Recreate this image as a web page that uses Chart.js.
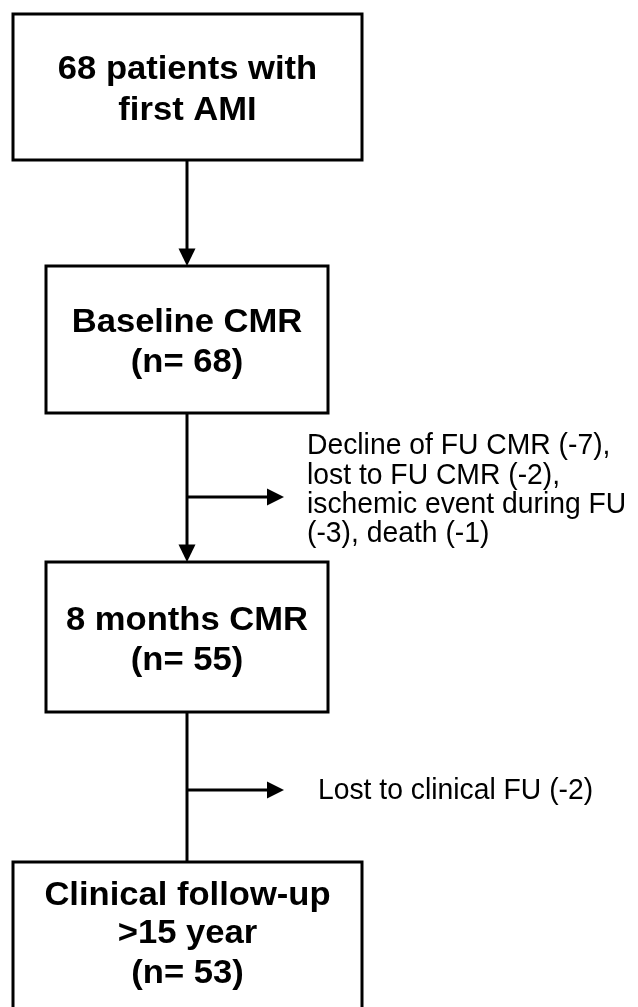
<!DOCTYPE html>
<html>
<head>
<meta charset="utf-8">
<script src="https://cdn.jsdelivr.net/npm/chart.js@4.4.1/dist/chart.umd.min.js"></script>
<style>
  html, body { margin: 0; padding: 0; background: #ffffff; }
  #wrap { width: 638px; height: 1007px; }
</style>
</head>
<body>
<div id="wrap"><canvas id="c" width="638" height="1007"></canvas></div>
<script>
// ---- data (flow stages and exclusions) ----
const stageTitles = [["68 patients with", "first AMI"], ["Baseline CMR"], ["8 months CMR"], ["Clinical follow-up", ">15 year"]];
const stageCounts = [null, 68, 55, 53];
const exclusionLines1 = ["Decline of FU CMR (-7),", "lost to FU CMR (-2),", "ischemic event during FU", "(-3), death (-1)"];
const exclusionLines2 = ["Lost to clinical FU (-2)"];

// ---- layout (in scale units; scales map 1:1 to the page) ----
const boxes = [
  { x0: 13, x1: 362, y0: 14, y1: 160 },
  { x0: 46, x1: 328, y0: 266, y1: 413 },
  { x0: 46, x1: 328, y0: 562, y1: 712 },
  { x0: 13, x1: 362, y0: 862, y1: 1015 }
];
const spineX = 187;
const sideArrows = [
  { y: 497, x1: 284, textX: 307, baselines: [454, 483.5, 512.5, 542], lines: exclusionLines1 },
  { y: 790, x1: 284, textX: 318, baselines: [799], lines: exclusionLines2 }
];
const stageBaselines = [[79, 120], [331.5, 372], [630, 670], [905, 943, 982.5]];

function stageText(i) {
  const t = stageTitles[i].slice();
  if (stageCounts[i] !== null) t.push("(n= " + stageCounts[i] + ")");
  return t;
}

function stretchedText(ctx, txt, x, y, sy) {
  ctx.save();
  ctx.translate(x, y);
  ctx.scale(1, sy);
  ctx.fillText(txt, 0, 0);
  ctx.restore();
}

const flowPlugin = {
  id: 'flow',
  afterDraw(chart) {
    const ctx = chart.ctx, sx = chart.scales.x, sy = chart.scales.y;
    const X = v => sx.getPixelForValue(v), Y = v => sy.getPixelForValue(v);
    ctx.save();
    ctx.strokeStyle = '#000'; ctx.fillStyle = '#000'; ctx.lineWidth = 3;
    ctx.lineCap = 'butt';
    // boxes
    boxes.forEach((b, i) => {
      ctx.strokeRect(X(b.x0), Y(b.y0), X(b.x1) - X(b.x0), Y(b.y1) - Y(b.y0));
      ctx.font = 'bold 34.6px "Liberation Sans", Arial, sans-serif';
      ctx.textAlign = 'center'; ctx.textBaseline = 'alphabetic';
      const lines = stageText(i);
      lines.forEach((ln, k) => stretchedText(ctx, ln, X((b.x0 + b.x1) / 2), Y(stageBaselines[i][k]), 0.96));
    });
    // vertical connectors
    for (let i = 0; i < boxes.length - 1; i++) {
      const top = boxes[i].y1, bot = boxes[i + 1].y0;
      const withHead = i < 2;
      ctx.beginPath();
      ctx.moveTo(X(spineX), Y(top));
      ctx.lineTo(X(spineX), Y(withHead ? bot - 14 : bot));
      ctx.stroke();
      if (withHead) {
        ctx.beginPath();
        ctx.moveTo(X(spineX - 8.5), Y(bot - 17.5));
        ctx.lineTo(X(spineX + 8.5), Y(bot - 17.5));
        ctx.lineTo(X(spineX), Y(bot));
        ctx.closePath(); ctx.fill();
      }
    }
    // side arrows and exclusion text
    sideArrows.forEach(a => {
      ctx.beginPath();
      ctx.moveTo(X(spineX), Y(a.y));
      ctx.lineTo(X(a.x1 - 14), Y(a.y));
      ctx.stroke();
      ctx.beginPath();
      ctx.moveTo(X(a.x1 - 17), Y(a.y - 8.5));
      ctx.lineTo(X(a.x1 - 17), Y(a.y + 8.5));
      ctx.lineTo(X(a.x1), Y(a.y));
      ctx.closePath(); ctx.fill();
      ctx.font = '28.3px "Liberation Sans", Arial, sans-serif';
      ctx.textAlign = 'left'; ctx.textBaseline = 'alphabetic';
      a.lines.forEach((ln, k) => stretchedText(ctx, ln, X(a.textX), Y(a.baselines[k]), 1.06));
    });
    ctx.restore();
  }
};

new Chart(document.getElementById('c'), {
  type: 'scatter',
  data: { datasets: [{ data: [], pointRadius: 0 }] },
  options: {
    responsive: false,
    devicePixelRatio: 1,
    animation: false,
    layout: { padding: 0 },
    plugins: { legend: { display: false }, tooltip: { enabled: false } },
    scales: {
      x: { type: 'linear', min: 0, max: 638, display: false },
      y: { type: 'linear', min: 0, max: 1007, reverse: true, display: false }
    }
  },
  plugins: [flowPlugin]
});
</script>
</body>
</html>
